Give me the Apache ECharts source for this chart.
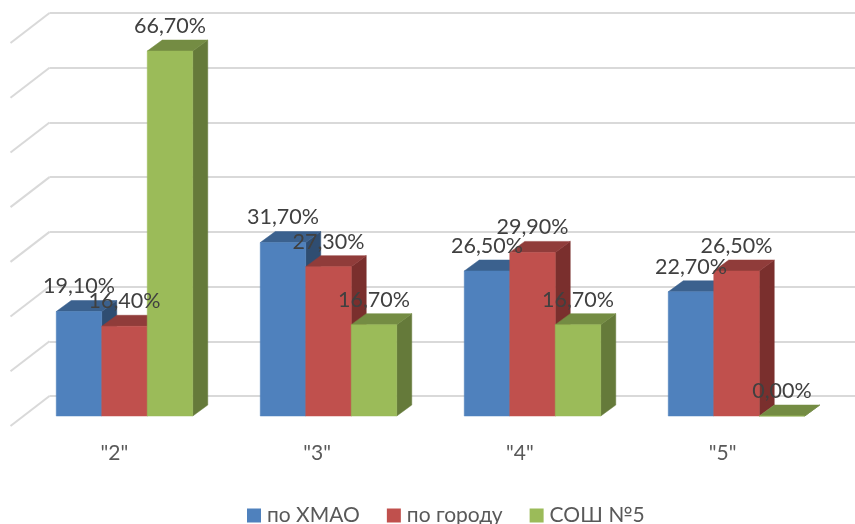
<!DOCTYPE html>
<html>
<head>
<meta charset="utf-8">
<title>chart</title>
<style>
  html, body { margin: 0; padding: 0; background: #fff; }
  #chart { width: 855px; height: 524px; }
</style>
<script src="https://cdn.jsdelivr.net/npm/echarts@6/dist/echarts.min.js"></script>
</head>
<body>
<div id="chart"></div>
<script>
// data
var categories = ['"2"', '"3"', '"4"', '"5"'];
var seriesNames = ['по ХМАО', 'по городу', 'СОШ №5'];
var valuesHmao = [19.1, 31.7, 26.5, 22.7];
var valuesCity = [16.4, 27.3, 29.9, 26.5];
var valuesSchool = [66.7, 16.7, 16.7, 0];
var yTicks = [0, 10, 20, 30, 40, 50, 60, 70];

// front, top and side colours of the bars
var faceColors = ['#4F81BD', '#C0504D', '#9BBB59'];
var topColors = ['#3B618E', '#903C3A', '#748C43'];
var sideColors = ['#2F4D71', '#7A2F2D', '#657A3A'];

var FONT = 'Lato, "Open Sans", sans-serif';

// pseudo 3d offsets, in pixels, measured from the back wall
var wallDx = -39, wallDy = 30;
var barWidth = 45.5, depthX = 15, depthY = -11;
var frontShiftX = -27, frontShiftY = 20;

var toRows = function(values) {
  return values.map(function(v, i) { return [i, v]; });
};

// front left corner of a bar
var barOrigin = function(api, seriesIndex, cat, value) {
  var p = api.coord([cat, value]);
  return [p[0] + frontShiftX + (seriesIndex - 1.5) * barWidth, p[1] + frontShiftY];
};

var renderBar = function(seriesIndex) {
  return function(params, api) {
    var cat = api.value(0);
    var top = barOrigin(api, seriesIndex, cat, api.value(1));
    var base = barOrigin(api, seriesIndex, cat, 0);
    var x0 = top[0], x1 = top[0] + barWidth;
    var y0 = top[1], y1 = base[1];
    // thin stroke in the same colour closes the seams between the faces
    var poly = function(points, color) {
      return {
        type: 'polygon',
        shape: { points: points },
        style: { fill: color, stroke: color, lineWidth: 0.5 }
      };
    };
    return {
      type: 'group',
      children: [
        poly([[x1, y0], [x1 + depthX, y0 + depthY], [x1 + depthX, y1 + depthY], [x1, y1]], sideColors[seriesIndex]),
        poly([[x0, y0], [x0 + depthX, y0 + depthY], [x1 + depthX, y0 + depthY], [x1, y0]], topColors[seriesIndex]),
        poly([[x0, y0], [x1, y0], [x1, y1], [x0, y1]], faceColors[seriesIndex])
      ]
    };
  };
};

// slanted part of the grid lines, on the left wall
var renderWall = function(params, api) {
  var p = api.coord([0, api.value(0)]);
  var x = params.coordSys.x;
  return {
    type: 'line',
    shape: { x1: x, y1: p[1], x2: x + wallDx, y2: p[1] + wallDy },
    style: { stroke: '#D9D9D9', lineWidth: 2 }
  };
};

// value labels sit above all the bars
var renderLabel = function(params, api) {
  var s = api.value(2);
  var top = barOrigin(api, s, api.value(0), api.value(1));
  return {
    type: 'text',
    style: {
      x: top[0] + barWidth / 2,
      y: top[1] - 25,
      text: api.value(1).toFixed(2).replace('.', ',') + '%',
      fill: '#404040',
      font: '21.5px ' + FONT,
      align: 'center',
      verticalAlign: 'middle'
    }
  };
};

var allValues = [valuesHmao, valuesCity, valuesSchool];
var labelRows = [];
allValues.forEach(function(values, s) {
  values.forEach(function(v, i) { labelRows.push([i, v, s]); });
});

var series = [{
  type: 'custom',
  name: 'wall',
  renderItem: renderWall,
  encode: { y: 0 },
  data: yTicks.map(function(t) { return [t]; }),
  z: 1,
  silent: true
}];
allValues.forEach(function(values, s) {
  series.push({
    type: 'custom',
    name: seriesNames[s],
    renderItem: renderBar(s),
    encode: { x: 0, y: 1 },
    itemStyle: { color: faceColors[s] },
    data: toRows(values),
    z: 2 + s
  });
});
series.push({
  type: 'custom',
  name: 'labels',
  renderItem: renderLabel,
  encode: { x: 0, y: 1 },
  data: labelRows,
  z: 6,
  silent: true
});

var myChart = echarts.init(document.getElementById('chart'));
myChart.setOption({
  animation: false,
  backgroundColor: '#ffffff',
  legend: {
    data: seriesNames,
    left: 247,
    top: 505,
    padding: 0,
    icon: 'rect',
    itemWidth: 14,
    itemHeight: 14,
    itemGap: 27,
    textStyle: { color: '#595959', fontSize: 21, fontFamily: FONT, padding: [0, 0, 0, 1] }
  },
  grid: [
    // back wall, carries the bars and the grid lines
    { left: 49.5, top: 13, width: 816, height: 383, outerBoundsMode: 'none' },
    // front edge of the floor, carries the category labels
    { left: 13, top: 13, width: 811, height: 413, outerBoundsMode: 'none' }
  ],
  xAxis: [
    {
      type: 'category',
      gridIndex: 0,
      data: categories,
      axisLine: { show: false },
      axisTick: { show: false },
      axisLabel: { show: false }
    },
    {
      type: 'category',
      gridIndex: 1,
      data: categories,
      axisLine: { show: false },
      axisTick: { show: false },
      axisLabel: { color: '#595959', fontSize: 21, fontFamily: FONT, margin: 17 }
    }
  ],
  yAxis: [
    {
      type: 'value',
      gridIndex: 0,
      min: 0,
      max: 70,
      interval: 10,
      axisLine: { show: false },
      axisTick: { show: false },
      axisLabel: { show: false },
      splitLine: { show: true, lineStyle: { color: '#D9D9D9', width: 2 } }
    },
    {
      type: 'value',
      gridIndex: 1,
      show: false,
      min: 0,
      max: 70
    }
  ],
  series: series
});
</script>
</body>
</html>
